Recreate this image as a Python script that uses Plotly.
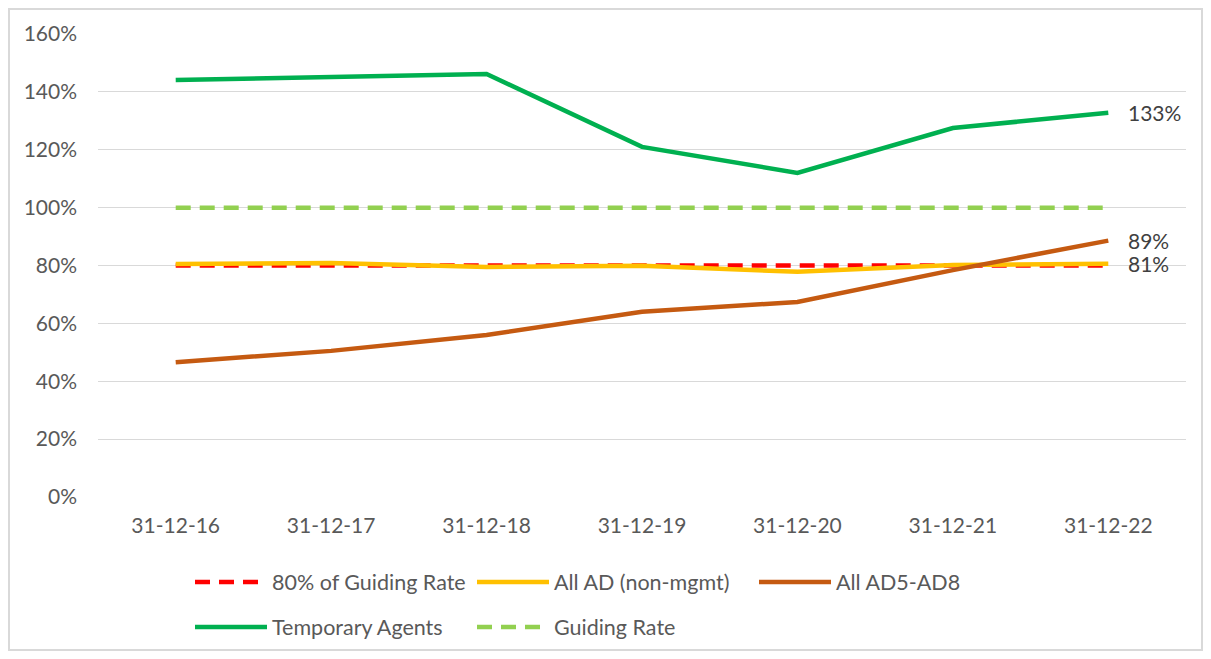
import plotly.graph_objects as go

categories = ["31-12-16", "31-12-17", "31-12-18", "31-12-19", "31-12-20", "31-12-21", "31-12-22"]
guiding80 = [80, 80, 80, 80, 80, 80, 80]
all_ad = [80.5, 80.9, 79.5, 79.9, 77.8, 80.2, 80.6]
all_ad5_8 = [46.6, 50.5, 56.0, 64.0, 67.4, 78.4, 88.6]
temp_agents = [144.1, 145.0, 146.2, 121.0, 112.0, 127.5, 132.8]
guiding = [100, 100, 100, 100, 100, 100, 100]

FONT = "Lato"
TXT = "#595959"

fig = go.Figure()
series = [
    ("80% of Guiding Rate", guiding80, "#FF0000", "15px,9px", "legend"),
    ("All AD (non-mgmt)", all_ad, "#FFC000", "solid", "legend"),
    ("All AD5-AD8", all_ad5_8, "#C55A11", "solid", "legend"),
    ("Temporary Agents", temp_agents, "#00B050", "solid", "legend2"),
    ("Guiding Rate", guiding, "#92D050", "15px,9px", "legend2"),
]
for name, vals, col, dash, lg in series:
    fig.add_trace(go.Scatter(x=categories, y=vals, name=name, mode="lines",
                             line=dict(color=col, width=4.5, dash=dash),
                             legend=lg))

for vals in (temp_agents, all_ad5_8, all_ad):
    fig.add_annotation(x=categories[-1], y=vals[-1], text=f"{round(vals[-1])}%",
                       showarrow=False, xanchor="left", yanchor="middle", xshift=18,
                       font=dict(family=FONT, size=21, color="#404040"))

# page pixel -> paper coords (plot area spans page x 98..1186, y 34..497)
def py(p):
    return (497 - p) / 463

def px(p):
    return (p - 98) / 1088

# page pixel -> container coords (figure spans page x 8..1203, y 8..651)
def cy(p):
    return (651 - p) / 643

def cx(p):
    return (p - 8) / 1195

fig.add_shape(type="rect", xref="paper", yref="paper",
              x0=px(9), x1=px(1202), y0=py(650), y1=py(9),
              line=dict(color="#D9D9D9", width=2), fillcolor="rgba(0,0,0,0)", layer="below")

legend_common = dict(orientation="h", xref="container", yref="container",
                     x=cx(190), xanchor="left", yanchor="middle", itemwidth=72,
                     entrywidth=195, entrywidthmode="pixels",
                     font=dict(family=FONT, size=21.5, color=TXT),
                     bgcolor="rgba(0,0,0,0)")

fig.update_layout(
    width=1195, height=643,
    margin=dict(l=90, r=17, t=26, b=154, autoexpand=False),
    paper_bgcolor="white", plot_bgcolor="white",
    font=dict(family=FONT, size=21, color=TXT),
    xaxis=dict(type="category", range=[-0.5, 6.5], showgrid=False, zeroline=False,
               showline=False, ticks="", ticklabelstandoff=14, automargin=False,
               tickfont=dict(family=FONT, size=21, color=TXT)),
    yaxis=dict(range=[0, 160], dtick=20, ticksuffix="%", showgrid=True,
               gridcolor="#D9D9D9", gridwidth=1.3, zeroline=False, showline=False,
               ticks="", ticklabelstandoff=20, automargin=False,
               tickfont=dict(family=FONT, size=21, color=TXT)),
    legend=dict(legend_common, y=cy(582)),
    legend2=dict(legend_common, y=cy(627)),
)

fig.write_html("out.html")
